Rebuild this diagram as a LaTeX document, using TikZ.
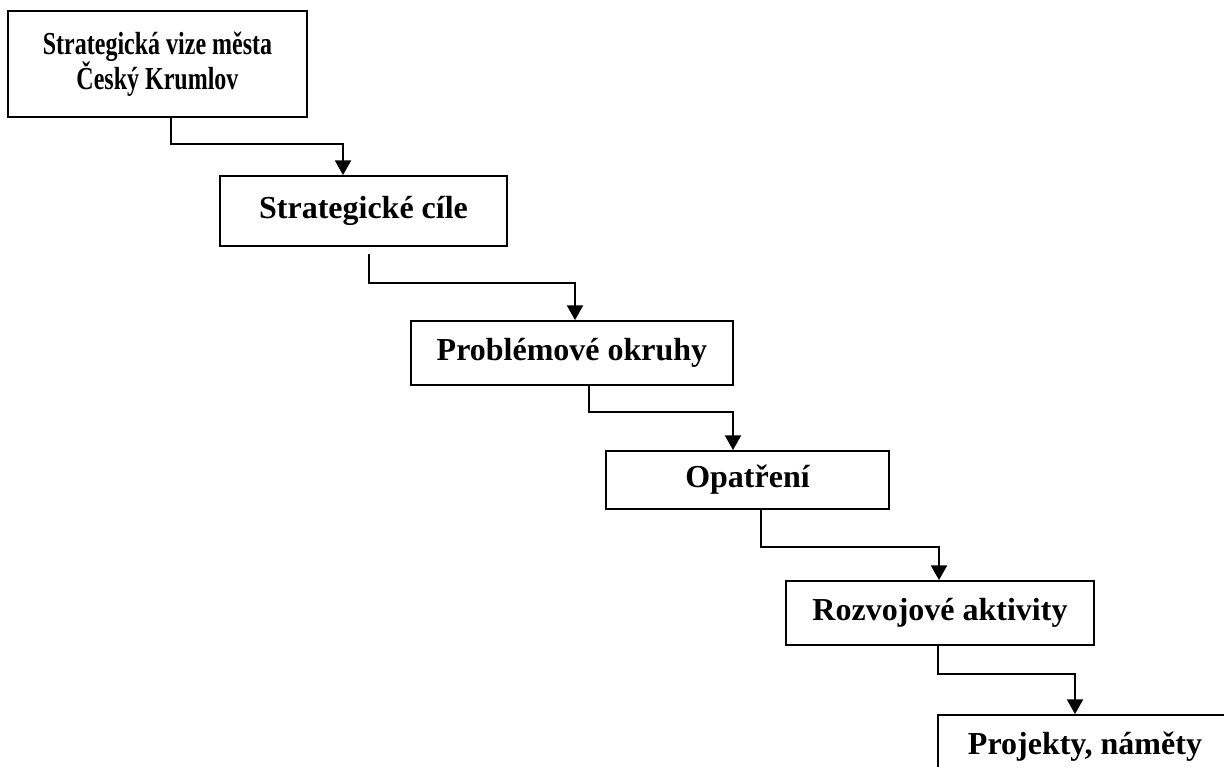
\documentclass[tikz,border=0pt]{standalone}
\usepackage{fontspec}
\setmainfont{Liberation Serif}
\usepackage{graphicx}
\usepackage{tikz}
\usetikzlibrary{calc, arrows.meta}
\tikzset{
  blok/.style={draw, line width=1.4pt, inner sep=0pt, align=center,
    font=\bfseries\fontsize{24}{26.5}\selectfont},
  spoj/.style={line width=1.4pt, -{Triangle[length=11pt, width=12pt]}},
}

\begin{document}
\begin{tikzpicture}[x=0.75pt, y=-0.75pt]
\useasboundingbox (0,0) rectangle (1224,767);

\node[blok, minimum width=224.25pt, minimum height=79.5pt] (vize) at (157.5,64)
  {\scalebox{0.75}[1]{Strategická vize města}\\\scalebox{0.75}[1]{Český Krumlov}};
\node[blok, minimum width=215.25pt, minimum height=52.5pt] (cile) at (363.5,211) {Strategické cíle};
\node[blok, minimum width=241.5pt, minimum height=48pt] (okruhy) at (572,353) {Problémové okruhy};
\node[blok, minimum width=212.25pt, minimum height=43.5pt] (opatreni) at (747.5,480) {Opatření};
\node[blok, minimum width=231pt, minimum height=48pt] (aktivity) at (940,613) {Rozvojové aktivity};
\node[blok, minimum width=220.5pt, minimum height=48pt] (projekty) at (1085,747) {Projekty, náměty};

% x positions of the connector ends
\coordinate (k1a) at (171,0);
\coordinate (k1b) at (343,0);
\coordinate (k2a) at (369,0);
\coordinate (k2b) at (575,0);
\coordinate (k3a) at (589,0);
\coordinate (k3b) at (733,0);
\coordinate (k4a) at (761,0);
\coordinate (k4b) at (939,0);
\coordinate (k5a) at (938,0);
\coordinate (k5b) at (1075,0);

\draw[spoj] (vize.south -| k1a) -- ++(0,26) -| (cile.north -| k1b);
\draw[spoj] ($(cile.south -| k2a)+(0,7)$) -- ++(0,29) -| (okruhy.north -| k2b);
\draw[spoj] (okruhy.south -| k3a) -- ++(0,26) -| (opatreni.north -| k3b);
\draw[spoj] (opatreni.south -| k4a) -- ++(0,37) -| (aktivity.north -| k4b);
\draw[spoj] (aktivity.south -| k5a) -- ++(0,28) -| (projekty.north -| k5b);

\end{tikzpicture}
\end{document}
